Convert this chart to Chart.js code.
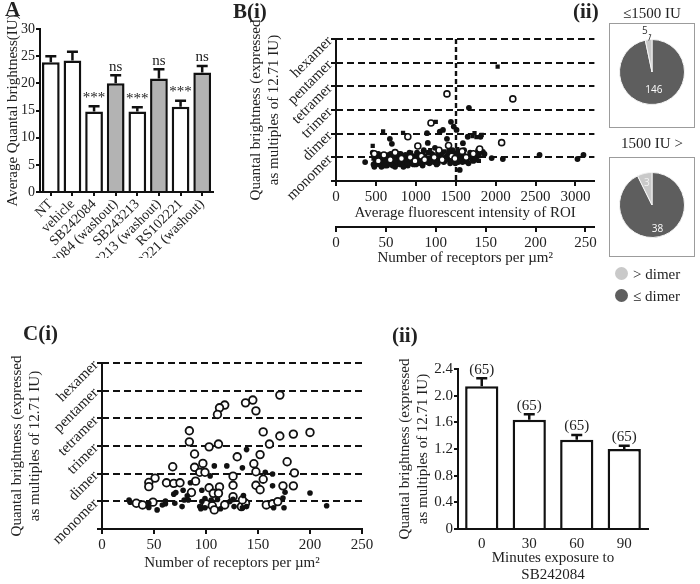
<!DOCTYPE html>
<html>
<head>
<meta charset="utf-8">
<script src="https://cdn.jsdelivr.net/npm/chart.js@4.4.1/dist/chart.umd.min.js"></script>
<style>
  body { margin: 0; width: 700px; height: 584px; position: relative; overflow: hidden; background: #fff;
         font-family: 'Liberation Serif', 'Times New Roman', serif; color: #222; }
  canvas { position: absolute; }
  .panel { position: absolute; font-weight: bold; font-size: 21px; line-height: 21px; }
  .txt { position: absolute; font-size: 15px; line-height: 16px; white-space: nowrap; }
  .frame { position: absolute; border: 1px solid #9c9c9c; box-sizing: border-box; }
  .dot { display: inline-block; width: 13px; height: 13px; border-radius: 50%; vertical-align: -1px; margin-right: 5px; }
</style>
</head>
<body>
<canvas id="chartA" width="232" height="258" style="left:0;top:0"></canvas>
<canvas id="chartB" width="370" height="250" style="left:230px;top:20px"></canvas>
<canvas id="pieLow" width="86" height="105" style="left:609px;top:23px"></canvas>
<canvas id="pieHigh" width="86" height="100" style="left:609px;top:157px"></canvas>
<canvas id="chartC" width="380" height="235" style="left:0;top:340px"></canvas>
<canvas id="chartD" width="308" height="239" style="left:392px;top:345px"></canvas>

<div class="frame" style="left:609px;top:23px;width:86px;height:105px"></div>
<div class="frame" style="left:609px;top:157px;width:86px;height:100px"></div>

<div class="panel" style="left:5px;top:-1px">A</div>
<div class="panel" style="left:233px;top:1px">B(i)</div>
<div class="panel" style="left:573px;top:1px">(ii)</div>
<div class="panel" style="left:23px;top:323px">C(i)</div>
<div class="panel" style="left:392px;top:325px">(ii)</div>

<div class="txt" style="left:609px;top:5px;width:86px;text-align:center">≤1500 IU</div>
<div class="txt" style="left:609px;top:135px;width:86px;text-align:center">1500 IU &gt;</div>
<div class="txt" style="left:615px;top:266px"><span class="dot" style="background:#c9c9c9"></span>&gt; dimer</div>
<div class="txt" style="left:615px;top:288px"><span class="dot" style="background:#5e5e5e"></span>≤ dimer</div>

<script>
// ---- data ----
const drugLabels = ['NT', 'vehicle', 'SB242084', 'SB242084 (washout)', 'SB243213', 'SB243213 (washout)', 'RS102221', 'RS102221 (washout)'];
const brightness = [23.9, 24.2, 14.8, 20.0, 14.8, 20.9, 15.7, 22.0];
const brightnessErr = [1.1, 1.6, 1.0, 1.5, 0.8, 1.7, 1.1, 1.2];
const drugNotes = ['', '', '***', 'ns', '***', 'ns', '***', 'ns'];

const oligomers = ['', 'monomer', 'dimer', 'trimer', 'tetramer', 'pentamer', 'hexamer'];

// B(i): [average intensity, quantal brightness]
const bDots = [[365,0.8],[460,1.2],[480,0.6],[500,0.9],[520,1.05],[540,0.7],[560,0.85],[580,1.0],[600,0.75],[620,0.95],
  [640,0.65],[660,1.1],[675,1.78],[700,1.57],[700,0.8],[720,0.95],[750,0.7],[770,1.05],[790,0.85],[810,1.15],
  [830,0.75],[850,1.0],[880,0.9],[900,0.65],[920,1.2],[950,0.8],[980,1.05],[1000,0.7],[1020,0.95],[1050,1.1],
  [1080,0.8],[1100,1.3],[1120,0.9],[1140,2.02],[1150,1.61],[1170,0.75],[1200,1.15],[1220,0.95],[1240,1.4],[1260,0.7],
  [1280,1.2],[1300,2.08],[1320,1.0],[1340,2.16],[1350,0.8],[1390,1.78],[1400,1.1],[1420,0.9],[1440,2.5],[1460,1.3],
  [1475,2.3],[1500,1.0],[1510,2.16],[1530,0.8],[1550,0.47],[1570,1.15],[1590,1.6],[1620,0.85],[1650,1.87],[1665,3.09],
  [1680,1.2],[1700,0.95],[1740,1.0],[1780,1.3],[1810,1.87],[1840,1.23],[1860,1.14],[1950,0.97],[2090,0.93],[2550,1.1],
  [3025,0.93],[3100,1.1],[470,0.7],[530,1.15],[570,0.6],[630,0.8],[690,1.0],[740,0.6],[780,0.9],[860,0.7],
  [910,1.0],[960,0.95],[1030,0.75],[1090,1.0],[1160,0.95],[1230,0.8],[1290,0.95],[1370,1.0],[1430,0.75],[1480,1.15],
  [1540,1.05],[1610,0.95],[1660,0.75],[1720,0.85],[1770,1.05],
  [490,0.75],[510,1.1],[550,0.95],[575,0.8],[595,1.1],[615,0.65],[645,0.9],[665,0.75],[685,1.15],[710,0.65],
  [725,1.1],[760,0.85],[785,1.15],[805,0.7],[825,0.95],[845,0.6],[870,1.1],[895,0.85],[925,0.75],[945,1.05],
  [970,0.7],[995,0.95],[1015,1.2],[1040,0.85],[1065,0.95],[1085,0.65],[1110,1.05],[1135,0.8],[1155,1.2],[1185,0.85],
  [1215,1.1],[1245,0.9],[1275,0.75],[1305,1.1],[1335,1.2],[1365,0.85],[1395,0.95],[1415,1.25],[1445,0.9],[1465,1.05],
  [1495,0.75],[1525,1.2],[1555,1.0],[1585,0.8],[1605,1.3],[1635,0.9],[1675,1.0],[1705,1.15],[1750,0.9],[1790,1.1]];
const bSquares = [[460,1.48],[470,0.95],[510,0.75],[540,1.0],[590,2.1],[610,0.85],[650,1.05],[690,0.7],[730,0.9],[760,1.15],
  [800,0.8],[840,2.03],[860,1.0],[890,0.75],[940,1.2],[970,0.9],[1010,1.05],[1060,0.75],[1090,1.2],[1130,0.95],
  [1180,1.3],[1210,0.8],[1250,2.5],[1270,1.05],[1310,0.85],[1360,1.25],[1380,0.95],[1430,1.15],[1470,0.8],[1520,1.35],
  [1560,0.9],[1600,1.1],[1640,0.8],[1690,1.05],[1710,1.9],[1735,2.02],[1760,1.85],[1790,0.85],[1825,1.95],[2025,4.83]];
const bOpen = [[480,1.15],[530,0.85],[600,1.1],[680,0.9],[740,1.2],[820,0.95],[900,1.87],[930,1.0],[990,0.85],[1025,1.48],
  [1070,1.05],[1110,0.9],[1190,2.45],[1230,1.0],[1290,1.3],[1330,0.9],[1390,3.68],[1410,1.5],[1450,1.05],[1490,0.95],
  [1580,1.25],[1630,1.0],[1720,1.15],[1800,1.35],[2075,1.62],[2215,3.47]];
const intensityTicks = [0, 500, 1000, 1500, 2000, 2500, 3000];
const intensityCut = 1500;

// B(ii) pies: [<= dimer, > dimer]
const sliceNames = ['≤ dimer', '> dimer'];
const pieLowCounts = [146, 5];
const pieHighCounts = [38, 3];

// C(i): [receptors per um2, quantal brightness]
const cOpen = [[171,4.84],[145,4.66],[138,4.56],[118,4.48],[148,4.27],[113,4.38],[111,4.14],[84,3.55],[155,3.51],[171,3.36],
  [184,3.43],[200,3.49],[84,3.15],[103,2.97],[112,3.07],[161,3.07],[89,2.71],[130,2.61],[152,2.69],[178,2.43],
  [68,2.25],[97,2.37],[89,2.23],[146,2.36],[94,2.05],[99,2.05],[148,2.07],[185,2.03],[51,1.84],[45,1.68],
  [45,1.53],[62,1.67],[69,1.65],[75,1.67],[90,1.73],[103,1.49],[107,1.29],[113,1.52],[126,1.58],[148,1.58],
  [152,1.42],[155,1.80],[174,1.56],[184,1.56],[86,1.32],[126,1.91],[33,0.93],[39,0.87],[49,0.97],[100,0.91],
  [106,0.84],[118,0.87],[134,0.81],[138,0.93],[158,0.87],[164,0.91],[169,0.99],[108,0.69],[126,1.17],[135,1.05],[112,1.29]];
const cDots = [[26,1.05],[27,0.97],[45,0.78],[53,0.69],[61,0.91],[61,1.01],[69,1.26],[71,1.32],[77,0.81],[78,1.40],
  [82,1.20],[83,1.05],[96,1.40],[94,0.81],[95,0.73],[99,0.77],[108,2.28],[104,1.92],[120,2.28],[135,2.21],
  [139,2.87],[157,2.05],[164,1.99],[164,1.56],[136,1.21],[135,0.77],[126,1.07],[111,1.07],[114,0.73],[165,0.77],
  [175,0.77],[176,1.33],[174,1.12],[200,1.30],[216,0.84],[127,0.81],[139,0.81],[105,1.05],[99,1.10],[85,1.67],
  [79,1.05],[96,0.99],[123,0.99],[70,0.93],[58,0.87],[45,0.93]];

// C(ii)
const minutes = ['0', '30', '60', '90'];
const timeBrightness = [2.14, 1.64, 1.34, 1.20];
const timeErr = [0.12, 0.08, 0.07, 0.05];
const timeN = ['(65)', '(65)', '(65)', '(65)'];

// ---- setup ----
const serif = "'Liberation Serif', 'Times New Roman', serif";
const ink = '#111';
Chart.defaults.font.family = serif;
Chart.defaults.font.size = 15;
Chart.defaults.color = '#222';
Chart.defaults.animation = false;
Chart.defaults.plugins.legend.display = false;
Chart.defaults.plugins.tooltip.enabled = false;

const toXY = arr => arr.map(p => ({ x: p[0], y: p[1] }));
const levels = oligomers.map((_, i) => i).filter(i => i > 0);

// error bars (upward only) with a note above each cap
function errorBars(errors, notes) {
  return {
    id: 'errorBars',
    afterDatasetsDraw(chart) {
      const ctx = chart.ctx;
      const y = chart.scales.y;
      const values = chart.data.datasets[0].data;
      ctx.save();
      ctx.strokeStyle = ink;
      ctx.lineWidth = 2.5;
      ctx.fillStyle = '#222';
      ctx.font = '15px ' + serif;
      ctx.textAlign = 'center';
      ctx.textBaseline = 'bottom';
      chart.getDatasetMeta(0).data.forEach((bar, i) => {
        const top = y.getPixelForValue(values[i] + errors[i]);
        ctx.beginPath();
        ctx.moveTo(bar.x, bar.y);
        ctx.lineTo(bar.x, top);
        ctx.moveTo(bar.x - 5.5, top);
        ctx.lineTo(bar.x + 5.5, top);
        ctx.stroke();
        if (notes[i]) ctx.fillText(notes[i], bar.x, top - 1);
      });
      ctx.restore();
    }
  };
}

// dashed reference lines at the oligomer levels (and optional x marks)
function dashLines(yValues, xValues) {
  return {
    id: 'dashLines',
    beforeDatasetsDraw(chart) {
      const { ctx, chartArea: a, scales: { x, y } } = chart;
      ctx.save();
      ctx.strokeStyle = ink;
      ctx.lineWidth = 1.8;
      ctx.setLineDash([7, 4]);
      ctx.beginPath();
      yValues.forEach(v => {
        const py = Math.round(y.getPixelForValue(v));
        ctx.moveTo(a.left, py);
        ctx.lineTo(a.right, py);
      });
      ctx.stroke();
      ctx.lineWidth = 2.4;
      ctx.setLineDash([5, 3]);
      ctx.beginPath();
      xValues.forEach(v => {
        const px = Math.round(x.getPixelForValue(v));
        ctx.moveTo(px, a.top);
        ctx.lineTo(px, a.bottom);
      });
      ctx.stroke();
      ctx.restore();
    }
  };
}

// slice counts on the pies
function pieLabels(spots) {
  return {
    id: 'pieLabels',
    afterDatasetsDraw(chart) {
      const ctx = chart.ctx;
      ctx.save();
      ctx.font = "10px 'Open Sans', 'Liberation Sans', sans-serif";
      ctx.textAlign = 'center';
      ctx.textBaseline = 'middle';
      chart.getDatasetMeta(0).data.forEach((arc, i) => {
        const s = spots[i];
        const { x, y, startAngle, endAngle, outerRadius } = arc.getProps(['x', 'y', 'startAngle', 'endAngle', 'outerRadius'], true);
        const mid = (startAngle + endAngle) / 2;
        const r = outerRadius * s.r;
        const tx = x + Math.cos(mid) * r, ty = y + Math.sin(mid) * r;
        if (s.leader) {
          ctx.strokeStyle = '#555';
          ctx.lineWidth = 1;
          ctx.beginPath();
          ctx.moveTo(x + Math.cos(mid) * (outerRadius - 1), y + Math.sin(mid) * (outerRadius - 1));
          ctx.lineTo(tx + 3, ty + 2);
          ctx.lineTo(tx + 1, ty + 2);
          ctx.stroke();
          ctx.fillStyle = '#333';
          ctx.fillText(chart.data.datasets[0].data[i], tx - 3, ty - 1);
        } else {
          ctx.fillStyle = s.color;
          ctx.fillText(chart.data.datasets[0].data[i], tx, ty);
        }
      });
      ctx.restore();
    }
  };
}

const axisGrid = { drawOnChartArea: false, color: ink, lineWidth: 2, tickLength: 5 };
const axisBorder = { color: ink, width: 2 };

function oligomerAxis(width, titlePad) {
  return {
    min: 0, max: 6,
    afterFit: s => { s.width = width; },
    ticks: { stepSize: 1, autoSkip: false, minRotation: 45, maxRotation: 45, padding: 1, callback: v => oligomers[v] },
    grid: axisGrid,
    border: axisBorder,
    title: { display: true, text: ['Quantal brightness (expressed', 'as multiples of 12.71 IU)'], padding: { top: titlePad, bottom: 0 } }
  };
}

// ---- A: bar chart ----
new Chart(document.getElementById('chartA'), {
  type: 'bar',
  data: {
    labels: drugLabels,
    datasets: [{
      data: brightness,
      backgroundColor: drugLabels.map(l => l.includes('washout') ? '#b3b3b3' : '#fff'),
      borderColor: ink,
      borderWidth: 2.5,
      barPercentage: 0.82,
      categoryPercentage: 1
    }]
  },
  options: {
    responsive: false,
    layout: { padding: { top: 29, right: 19, bottom: 0, left: 0 } },
    scales: {
      x: {
        afterFit: s => { s.height = 66; },
        ticks: { autoSkip: false, minRotation: 45, maxRotation: 45, padding: 0, font: { size: 14 } },
        grid: Object.assign({}, axisGrid, { offset: false, tickLength: 4 }),
        border: axisBorder
      },
      y: {
        min: 0, max: 30,
        afterFit: s => { s.width = 40; },
        ticks: { stepSize: 5, padding: 1, font: { size: 14 } },
        grid: Object.assign({}, axisGrid, { tickLength: 4 }),
        border: axisBorder,
        title: { display: true, text: 'Average Quantal brightness(IU)', padding: { top: 4, bottom: 0 } }
      }
    }
  },
  plugins: [errorBars(brightnessErr, drugNotes)]
});

// ---- B(i): scatter with two x axes ----
new Chart(document.getElementById('chartB'), {
  type: 'scatter',
  data: {
    datasets: [
      { data: toXY(bOpen), pointStyle: 'circle', pointRadius: 3, backgroundColor: '#fff', borderColor: ink, borderWidth: 1.6 },
      { data: toXY(bSquares), pointStyle: 'rect', pointRadius: 3, backgroundColor: ink, borderWidth: 0 },
      { data: toXY(bDots), pointStyle: 'circle', pointRadius: 2.9, backgroundColor: ink, borderWidth: 0 }
    ]
  },
  options: {
    responsive: false,
    layout: { padding: { top: 19, right: 5, bottom: 0, left: 0 } },
    scales: {
      x: {
        type: 'linear', min: 0, max: 3237, weight: 0,
        afterFit: s => { s.height = 46; },
        afterBuildTicks: s => { s.ticks = intensityTicks.map(v => ({ value: v })); },
        ticks: { padding: 2, callback: v => String(v) },
        grid: axisGrid,
        border: axisBorder,
        title: { display: true, text: 'Average fluorescent intensity of ROI', padding: { top: 0, bottom: 5 } }
      },
      x2: {
        type: 'linear', position: 'bottom', min: 0, max: 259, weight: 1,
        afterFit: s => { s.height = 43; },
        ticks: { stepSize: 50, includeBounds: false, padding: 2, callback: v => String(v) },
        grid: axisGrid,
        border: axisBorder,
        title: { display: true, text: 'Number of receptors per µm²', padding: { top: 0, bottom: 3 } }
      },
      y: oligomerAxis(106, 17)
    }
  },
  plugins: [dashLines(levels, [intensityCut])]
});

// ---- B(ii): pies ----
function pie(id, counts, pad, spots) {
  new Chart(document.getElementById(id), {
    type: 'pie',
    data: { labels: sliceNames, datasets: [{ data: counts, backgroundColor: ['#5e5e5e', '#c9c9c9'], borderColor: '#f4f4f4', borderWidth: 1 }] },
    options: { responsive: false, layout: { padding: pad } },
    plugins: [pieLabels(spots)]
  });
}
pie('pieLow', pieLowCounts, { top: 6, bottom: 13, left: 10, right: 10 },
    [{ r: 0.55, color: '#fff' }, { r: 1.22, leader: true }]);
pie('pieHigh', pieHighCounts, { top: 15, bottom: 19, left: 10, right: 10 },
    [{ r: 0.75, color: '#fff' }, { r: 0.68, color: '#f2f2f2' }]);

// ---- C(i): scatter ----
new Chart(document.getElementById('chartC'), {
  type: 'scatter',
  data: {
    datasets: [
      { data: toXY(cDots), pointStyle: 'circle', pointRadius: 2.8, backgroundColor: ink, borderWidth: 0 },
      { data: toXY(cOpen), pointStyle: 'circle', pointRadius: 3.8, backgroundColor: '#fff', borderColor: ink, borderWidth: 1.8 }
    ]
  },
  options: {
    responsive: false,
    layout: { padding: { top: 23, right: 18, bottom: 0, left: 0 } },
    scales: {
      x: {
        type: 'linear', min: 0, max: 250,
        afterFit: s => { s.height = 46; },
        ticks: { stepSize: 50, padding: 2 },
        grid: axisGrid,
        border: axisBorder,
        title: { display: true, text: 'Number of receptors per µm²', padding: { top: 0, bottom: 3 } }
      },
      y: oligomerAxis(102, 8)
    }
  },
  plugins: [dashLines(levels, [])]
});

// ---- C(ii): bar chart ----
new Chart(document.getElementById('chartD'), {
  type: 'bar',
  data: {
    labels: minutes,
    datasets: [{ data: timeBrightness, backgroundColor: '#fff', borderColor: ink, borderWidth: 2.5, barPercentage: 0.7, categoryPercentage: 1 }]
  },
  options: {
    responsive: false,
    layout: { padding: { top: 24, right: 52, bottom: 0, left: 0 } },
    scales: {
      x: {
        afterFit: s => { s.height = 55; },
        ticks: { padding: 6 },
        grid: { display: true, drawOnChartArea: false, drawTicks: false },
        border: axisBorder,
        title: { display: true, text: ['Minutes exposure to', 'SB242084'], padding: { top: 0, bottom: 0 }, font: { lineHeight: 1.15 } }
      },
      y: {
        min: 0, max: 2.4,
        afterFit: s => { s.width = 66; },
        ticks: { stepSize: 0.4, padding: 1, callback: v => v === 0 ? '0' : v.toFixed(1) },
        grid: Object.assign({}, axisGrid, { tickLength: 4 }),
        border: axisBorder,
        title: { display: true, text: ['Quantal brightness (expressed', 'as multiples of 12.71 IU)'], padding: { top: 4, bottom: 0 } }
      }
    }
  },
  plugins: [errorBars(timeErr, timeN)]
});
</script>
</body>
</html>
